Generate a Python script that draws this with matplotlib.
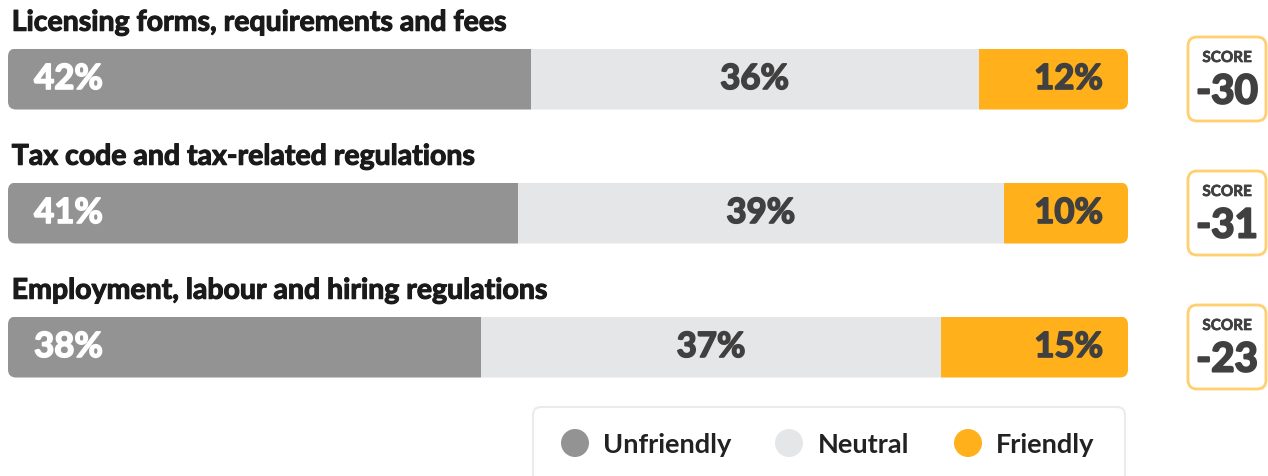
import matplotlib.pyplot as plt
import matplotlib.patheffects as pe
from matplotlib.patches import FancyBboxPatch, Circle

plt.rcParams["font.family"] = ["Lato", "DejaVu Sans"]

categories = [
    "Licensing forms, requirements and fees",
    "Tax code and tax-related regulations",
    "Employment, labour and hiring regulations",
]
unfriendly = [42, 41, 38]
neutral = [36, 39, 37]
friendly = [12, 10, 15]
scores = [-30, -31, -23]
series_names = ["Unfriendly", "Neutral", "Friendly"]

C_UNF = "#939393"
C_NEU = "#E5E6E8"
C_FRI = "#FFB01A"
C_TXT = "#404040"


def heavy(color, lw=1.2):
    # Lato tops out at bold; a thin stroke gives the heavier look
    return [pe.withStroke(linewidth=lw, foreground=color)]


W, H = 1268, 477
fig = plt.figure(figsize=(W / 100, H / 100), dpi=100)

# overlay axes in pixel coordinates (boxes, clip shapes, legend)
ov = fig.add_axes([0, 0, 1, 1])
ov.set_xlim(0, W)
ov.set_ylim(H, 0)
ov.axis("off")

# bar axes: x in percent points, one row per category
x0, x1 = 8, 1128
row0, step = 80, 134
ax = fig.add_axes([x0 / W, 1 - (row0 + 2.5 * step) / H, (x1 - x0) / W, 3 * step / H])
total = max(u + n + f for u, n, f in zip(unfriendly, neutral, friendly))
ax.set_xlim(0, total)
ax.set_ylim(2.5, -0.5)
ax.axis("off")
ax.patch.set_alpha(0)

bar_h = 61 / step
for i, cat in enumerate(categories):
    u, n, f = unfriendly[i], neutral[i], friendly[i]
    s = u + n + f
    scale = total / s
    yc = row0 + i * step
    clip = FancyBboxPatch((x0, yc - 30.5), x1 - x0, 61,
                          boxstyle="round,pad=0,rounding_size=8",
                          transform=ov.transData)
    bars = ax.barh([i] * 3, [u * scale, n * scale, f * scale],
                   left=[0, u * scale, (u + n) * scale], height=bar_h,
                   color=[C_UNF, C_NEU, C_FRI], linewidth=0)
    for b in bars:
        b.set_clip_path(clip)

    ax.text(2.1, i, f"{u}%", color="white", fontsize=25, fontweight="bold",
            ha="left", va="center", path_effects=heavy("white"))
    ax.text((u + n / 2) * scale, i, f"{n}%", color=C_TXT, fontsize=25,
            fontweight="bold", ha="center", va="center",
            path_effects=heavy(C_TXT))
    ax.text(total - 2.0, i, f"{f}%", color=C_TXT, fontsize=25,
            fontweight="bold", ha="right", va="center",
            path_effects=heavy(C_TXT))
    ax.text(0.3, i - 0.42, cat, color="#1a1a1a", fontsize=20.5,
            fontweight="bold", ha="left", va="center",
            path_effects=heavy("#1a1a1a", 0.8))

    # score box
    box = FancyBboxPatch((1188, yc - 42), 78, 84,
                         boxstyle="round,pad=0,rounding_size=9",
                         facecolor="white", edgecolor="#FFCF70", linewidth=2)
    ov.add_patch(box)
    ov.text(1227, yc - 21, "SCORE", color=C_TXT, fontsize=11,
            fontweight="bold", ha="center", va="center",
            path_effects=heavy(C_TXT, 0.5))
    ov.text(1227, yc + 13, f"{scores[i]}", color=C_TXT, fontsize=29,
            fontweight="bold", ha="center", va="center",
            path_effects=heavy(C_TXT, 1.5))

# legend
leg = FancyBboxPatch((533, 408), 592, 90,
                     boxstyle="round,pad=0,rounding_size=8",
                     facecolor="white", edgecolor="#EBEBEB", linewidth=1.5)
ov.add_patch(leg)
for cx, tx, name, col in zip([575, 789, 968], [603, 818, 996], series_names,
                             [C_UNF, C_NEU, C_FRI]):
    ov.add_patch(Circle((cx, 444), 14, facecolor=col, edgecolor="none"))
    ov.text(tx, 445, name, color="#222222", fontsize=19.5, fontweight="bold",
            ha="left", va="center")

fig.savefig("out.png", dpi=100)
